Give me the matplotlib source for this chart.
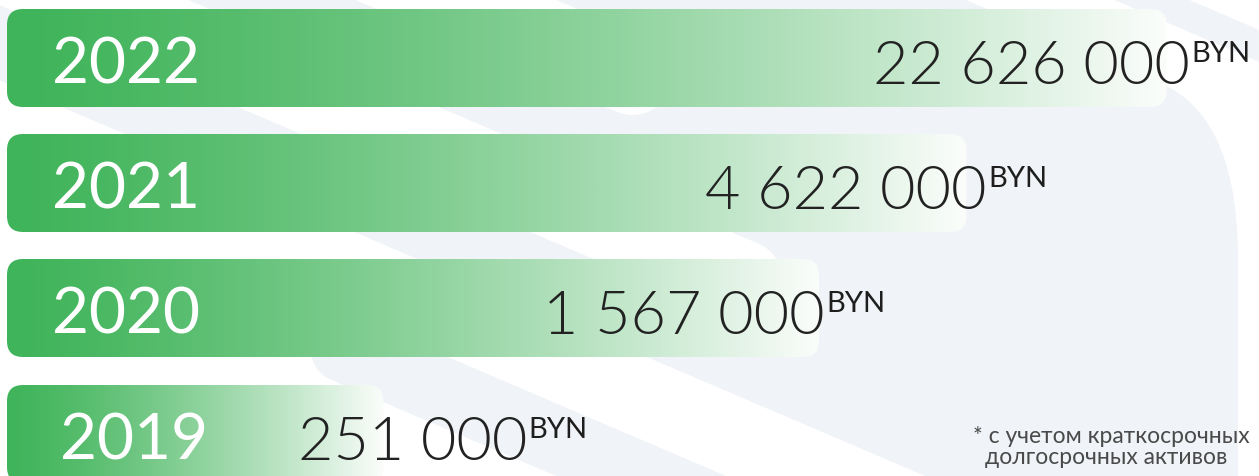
import os
import matplotlib
matplotlib.use('Agg')
import matplotlib.pyplot as plt
import matplotlib.font_manager as fm
import numpy as np
from matplotlib.patches import FancyBboxPatch, Polygon
from matplotlib.colors import LinearSegmentedColormap

# Data
years = ['2022', '2021', '2020', '2019']
values = [22626000, 4622000, 1567000, 251000]
currency = 'BYN'
# bar lengths as drawn in the infographic (not to scale), % of image width
bar_length = [92.1, 76.2, 64.5, 29.9]
footnote = ['* с учетом краткосрочных', 'долгосрочных активов']

# Layout (pixels, y grows downwards)
W, H = 1259, 477
bar_x0 = 7
bar_h = 98
bar_top = [10, 135, 260, 386]
year_x = [52, 52, 52, 60]
value_right = [1188, 985, 823, 525]

plt.rcParams['font.family'] = ['Lato', 'DejaVu Sans']

# thin face for the amounts: Lato Light if present, otherwise Roboto Light
lato_light = [f for f in fm.findSystemFonts() if os.path.basename(f).lower() == 'lato-light.ttf']
if lato_light:
    value_font = dict(fontproperties=fm.FontProperties(fname=lato_light[0], size=44))
    value_shift = 2
else:
    value_font = dict(family=['Roboto', 'DejaVu Sans'], fontweight='light', fontsize=46)
    value_shift = 14

fig = plt.figure(figsize=(W / 100, H / 100), dpi=100)
ax = fig.add_axes([0, 0, 1, 1])
ax.set_xlim(0, W)
ax.set_ylim(H, 0)
ax.axis('off')

GRAY = '#f0f3f7'
ax.add_patch(plt.Rectangle((-50, -50), W + 100, H + 100, color=GRAY, zorder=0))

# Background stripes of the logo
K = 2.34
NRM = np.sqrt(1 + K * K)
d = np.array([K, 1]) / NRM
n = np.array([1, -K]) / NRM


def stripe(x_left0, width, y0, y1, cap_top=False, cap_bottom=False):
    h = width / (2 * NRM)
    xc = lambda y: x_left0 + width / 2 + K * y
    p0 = np.array([xc(y0), y0])
    p1 = np.array([xc(y1), y1])
    a = np.linspace(0, np.pi, 30)
    pts = [p0 + h * n]
    if cap_bottom:
        pts += list(p1 + h * (np.cos(a)[:, None] * n + np.sin(a)[:, None] * d))
    else:
        pts += [p1 + h * n, p1 - h * n]
    pts.append(p1 - h * n)
    if cap_top:
        pts += list(p0 + h * (np.cos(a)[:, None] * -n + np.sin(a)[:, None] * -d))
    else:
        pts += [p0 - h * n]
    return np.array(pts)


def add(poly, color):
    ax.add_patch(Polygon(poly, closed=True, facecolor=color, edgecolor='none', zorder=0.5))


# white area left of the first stripe
xr = lambda y: -191 + K * y
add([(-100, -100), (xr(-100), -100), (xr(600), 600), (-100, 600)], 'white')
add(stripe(-560, 170, 350, 600, cap_top=True), GRAY)
add(stripe(-15, 201, -60, 281, cap_bottom=True), 'white')
add(stripe(353, 201, -60, 76.5, cap_bottom=True), 'white')
# big right white area
t = np.linspace(0, 1, 40)[:, None]
P0, C, P2 = np.array([1160, 84]), np.array([1238, 117]), np.array([1238, 260])
curve = (1 - t) ** 2 * P0 + 2 * (1 - t) * t * C + t ** 2 * P2
right = [(964 + K * -60, -60)] + list(curve) + [(1238, 600), (1400, 600), (1400, -60)]
add(right, 'white')
add(stripe(1112, 75, -60, 120), GRAY)

# Gradient bars
cmap = LinearSegmentedColormap.from_list('g', ['#40b45a', '#fbfdfb'])
grad = np.linspace(0, 1, 512) ** 1.3
for i, yr in enumerate(years):
    L = bar_length[i] / 100 * W
    top = bar_top[i]
    box = FancyBboxPatch((bar_x0, top), L, bar_h, boxstyle='round,pad=0,rounding_size=16',
                         facecolor='none', edgecolor='none', zorder=2)
    ax.add_patch(box)
    im = ax.imshow(grad[None, :], cmap=cmap, vmin=0, vmax=1, aspect='auto',
                   extent=[bar_x0, bar_x0 + L, top + bar_h, top], zorder=1, interpolation='bilinear')
    im.set_clip_path(box)

    base = top + bar_h / 2 + 24.5
    ax.text(year_x[i], base, yr, color='white', fontsize=46, ha='left', va='baseline', zorder=3)
    label = f'{values[i]:,}'.replace(',', ' ')
    ax.text(value_right[i] + value_shift, base + 1, label, color='#222222',
            ha='right', va='baseline', zorder=3, **value_font)
    ax.text(value_right[i] + 3, base - 21, currency, color='#1e1e1e', fontsize=21,
            ha='left', va='baseline', zorder=3)

ax.set_xlim(0, W)
ax.set_ylim(H, 0)

ax.text(1111, 443, footnote[0], color='#4a4a4a', fontsize=16.5, ha='center', va='baseline', zorder=3)
ax.text(1106, 464, footnote[1], color='#4a4a4a', fontsize=16.5, ha='center', va='baseline', zorder=3)

fig.savefig('out.png', dpi=100, facecolor='white')
